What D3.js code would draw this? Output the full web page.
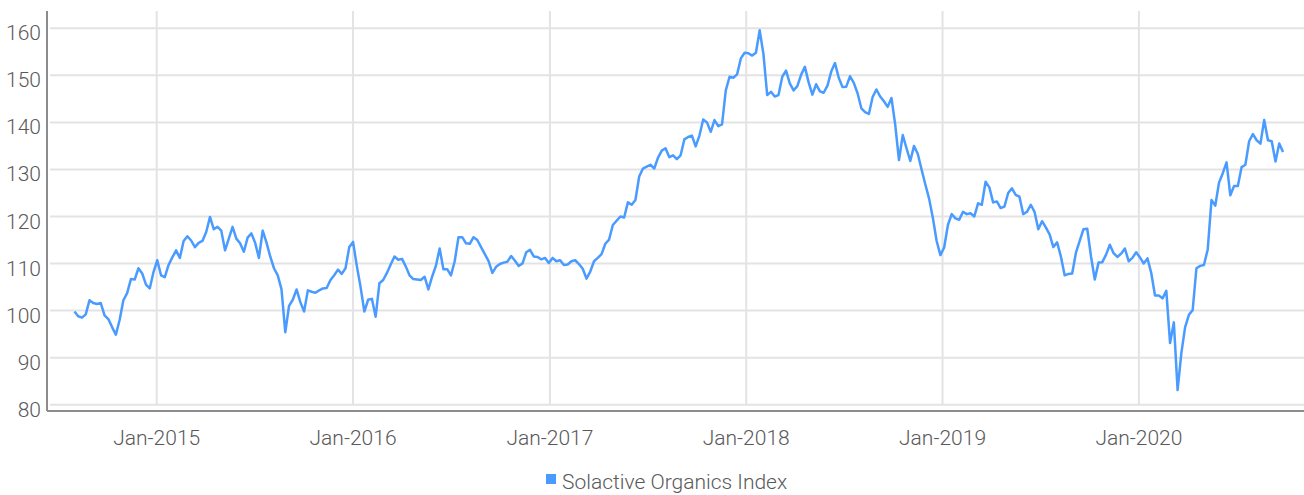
<!DOCTYPE html>
<html>
<head>
<meta charset="utf-8">
<script src="https://cdn.jsdelivr.net/npm/d3@7"></script>
<style>
  body { margin: 0; background: #fff; }
  text { font-family: Roboto, "Open Sans", sans-serif; font-weight: 300; fill: #595959; }
</style>
</head>
<body>
<svg id="chart" width="1304" height="495"></svg>
<script>
// weekly closes of the index, first week 1 Aug 2014
const startDate = new Date(2014, 7, 1);
const seriesName = "Solactive Organics Index";
const values = [
  99.8, 98.8, 98.5, 99.2, 102.2, 101.6, 101.4, 101.6, 99.0, 98.2,
  96.5, 94.9, 98.0, 102.2, 103.7, 106.7, 106.6, 109.0, 107.9, 105.5,
  104.7, 108.2, 110.7, 107.5, 107.1, 109.7, 111.3, 112.8, 111.2, 114.8,
  115.8, 114.9, 113.5, 114.4, 114.8, 116.7, 119.9, 117.3, 117.8, 117.0,
  112.8, 115.3, 117.8, 115.3, 114.3, 112.5, 115.5, 116.4, 114.4, 111.2,
  117.0, 114.5, 111.5, 109.0, 107.5, 104.5, 95.4, 101.0, 102.3, 104.5,
  101.8, 99.8, 104.3, 104.0, 103.8, 104.3, 104.7, 104.8, 106.5, 107.5,
  108.7, 107.8, 109.0, 113.5, 114.6, 109.5, 105.0, 99.8, 102.3, 102.5,
  98.7, 105.8, 106.5, 108.0, 109.8, 111.5, 110.8, 111.0, 109.4, 107.5,
  106.7, 106.6, 106.5, 107.2, 104.5, 107.2, 109.5, 113.2, 108.8, 108.8,
  107.5, 110.5, 115.6, 115.6, 114.3, 114.2, 115.6, 115.0, 113.5, 112.0,
  110.5, 108.0, 109.3, 109.9, 110.2, 110.4, 111.6, 110.6, 109.5, 110.0,
  112.4, 112.9, 111.5, 111.4, 110.9, 111.2, 110.1, 111.2, 110.5, 110.7,
  109.7, 109.8, 110.5, 110.7, 109.9, 108.9, 106.8, 108.3, 110.5, 111.2,
  112.0, 114.2, 115.1, 118.2, 119.1, 120.0, 119.8, 123.0, 122.5, 123.5,
  128.5, 130.2, 130.6, 131.0, 130.2, 132.5, 134.0, 134.5, 132.6, 133.0,
  132.2, 133.0, 136.4, 136.9, 137.2, 134.9, 137.2, 140.6, 140.0, 138.0,
  140.5, 139.2, 139.6, 146.8, 149.7, 149.5, 150.2, 153.6, 154.8, 154.7,
  154.2, 154.8, 159.6, 154.5, 145.8, 146.5, 145.5, 145.8, 149.7, 151.0,
  148.3, 146.8, 147.7, 150.1, 151.8, 148.5, 145.9, 148.1, 146.6, 146.3,
  147.8, 150.8, 152.6, 149.5, 147.5, 147.6, 149.8, 148.4, 146.2, 143.0,
  142.2, 141.8, 145.4, 147.0, 145.5, 144.5, 143.3, 145.2, 139.5, 132.0,
  137.3, 134.5, 131.8, 135.0, 133.3, 130.0, 126.8, 123.8, 119.7, 114.8,
  111.8, 113.4, 118.2, 120.5, 119.6, 119.3, 121.0, 120.5, 120.7, 120.0,
  122.8, 122.5, 127.4, 126.2, 123.0, 123.2, 121.8, 122.1, 125.0, 126.0,
  124.6, 124.2, 120.5, 121.0, 122.5, 121.0, 117.3, 119.0, 117.7, 116.2,
  113.5, 114.5, 111.5, 107.5, 107.8, 107.9, 112.3, 114.8, 117.3, 117.4,
  111.5, 106.6, 110.2, 110.3, 111.9, 114.0, 112.2, 111.4, 112.1, 113.2,
  110.5, 111.2, 112.4, 111.3, 110.0, 111.1, 108.0, 103.2, 103.2, 102.6,
  104.2, 93.1, 97.5, 83.1, 91.0, 96.5, 99.1, 100.1, 109.0, 109.5,
  109.7, 113.0, 123.5, 122.3, 127.2, 129.2, 131.5, 124.5, 126.5, 126.5,
  130.5, 131.0, 136.0, 137.5, 136.2, 135.5, 140.5, 136.2, 136.0, 131.7,
  135.5, 133.7
];
const yTicks = [80, 90, 100, 110, 120, 130, 140, 150, 160];
const xTickYears = [2015, 2016, 2017, 2018, 2019, 2020];

const data = values.map((v, i) => ({ date: d3.timeDay.offset(startDate, 7 * i), value: v }));

const svg = d3.select("#chart");
const plotLeft = 47, plotRight = 1304, plotTop = 11, plotBottom = 411;

const x = d3.scaleTime()
  .domain([new Date(2014, 5, 11), new Date(2020, 10, 3)])
  .range([plotLeft, plotRight]);
const y = d3.scaleLinear().domain([80, 160]).range([404.7, 28.3]);

// horizontal grid
svg.append("g")
  .selectAll("line")
  .data(yTicks)
  .enter()
  .append("line")
  .attr("x1", plotLeft + 3)
  .attr("x2", plotRight)
  .attr("y1", d => y(d))
  .attr("y2", d => y(d))
  .attr("stroke", "#e3e3e3")
  .attr("stroke-width", 2);

const xTicks = xTickYears.map(yr => new Date(yr, 0, 1));

// vertical grid
svg.append("g")
  .selectAll("line")
  .data(xTicks)
  .enter()
  .append("line")
  .attr("x1", d => x(d))
  .attr("x2", d => x(d))
  .attr("y1", plotTop)
  .attr("y2", y(80))
  .attr("stroke", "#e3e3e3")
  .attr("stroke-width", 2);

// axis lines
svg.append("line")
  .attr("x1", plotLeft).attr("x2", plotLeft)
  .attr("y1", plotTop).attr("y2", plotBottom)
  .attr("stroke", "#8c8c8c").attr("stroke-width", 2);
svg.append("line")
  .attr("x1", plotLeft).attr("x2", plotRight)
  .attr("y1", plotBottom).attr("y2", plotBottom)
  .attr("stroke", "#8c8c8c").attr("stroke-width", 2);

// y tick labels
svg.append("g")
  .selectAll("text")
  .data(yTicks)
  .enter()
  .append("text")
  .attr("x", 41)
  .attr("y", d => y(d) + 12)
  .attr("text-anchor", "end")
  .style("font-size", "21px")
  .text(d => d);

// x tick labels
const fmt = d3.timeFormat("%b-%Y");
svg.append("g")
  .selectAll("text")
  .data(xTicks)
  .enter()
  .append("text")
  .attr("x", d => x(d))
  .attr("y", 445)
  .attr("text-anchor", "middle")
  .style("font-size", "21px")
  .text(d => fmt(d));

// the series
const line = d3.line()
  .x(d => x(d.date))
  .y(d => y(d.value));

svg.append("path")
  .datum(data)
  .attr("fill", "none")
  .attr("stroke", "#4a9bff")
  .attr("stroke-width", 2.5)
  .attr("stroke-linejoin", "round")
  .attr("d", line);

// legend
const legend = svg.append("g").attr("transform", "translate(546,474)");
legend.append("rect")
  .attr("width", 10)
  .attr("height", 10)
  .attr("fill", "#4a9bff");
legend.append("text")
  .attr("x", 16)
  .attr("y", 15)
  .style("font-size", "21px")
  .text(seriesName);
</script>
</body>
</html>
